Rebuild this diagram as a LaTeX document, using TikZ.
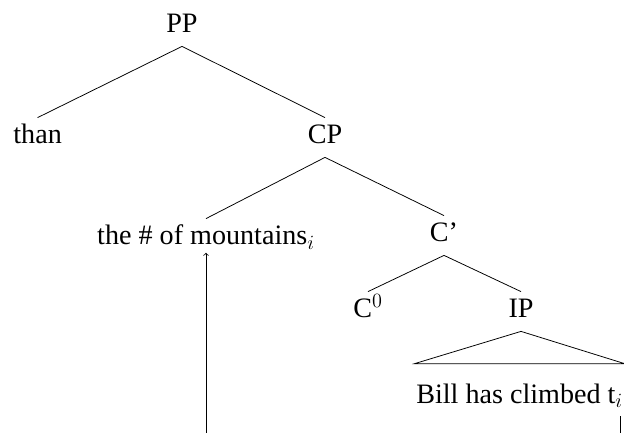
\documentclass[tikz,border=0pt]{standalone}
\usepackage{fontspec}
\setmainfont{Liberation Serif}
\begin{document}
\begin{tikzpicture}[line width=0.55pt,every node/.style={anchor=base,inner xsep=1pt,inner ysep=6.5pt,text height=12pt,text depth=2.75pt,font=\fontsize{20}{24}\selectfont}]
            \useasboundingbox (0,0) rectangle (15.6,10.8);
            \clip (0,0) rectangle (15.6,10.8);
            \node (pp) at (4.55,9.975) {PP};
            \node (than) at (0.94,7.2) {than};
            \node (cp) at (8.125,7.2) {CP};
            \node (mount) at (5.15,4.675) {the \# of mountains$_i$};
            \node (cbar) at (11.1,4.75) {C'};
            \node (c0) at (9.2,2.85) {C$^0$};
            \node (ip) at (13.025,2.85) {IP};
            \node (bill) at (12.99,0.725) {Bill has climbed t$_i$};
            % branches
            \draw (pp.south) -- (than.north) (pp.south) -- (cp.north);
            \draw (cp.south) -- (mount.north) (cp.south) -- (cbar.north);
            \draw (cbar.south) -- (c0.north) (cbar.south) -- (ip.north);
            % roof over the IP
            \coordinate (rl) at ([yshift=9.2pt]bill.north west);
            \coordinate (rr) at ([yshift=9.2pt]bill.north east);
            \draw (ip.south) -- (rl) -- (rr) -- cycle;
            % movement of the trace
            \coordinate (ti) at ([xshift=-0.1cm]bill.south east);
            \coordinate (landing) at ([yshift=4pt]mount.south);
            \draw[->] (ti) -- ++(0,-1) -| (landing);
            \end{tikzpicture}
\end{document}
